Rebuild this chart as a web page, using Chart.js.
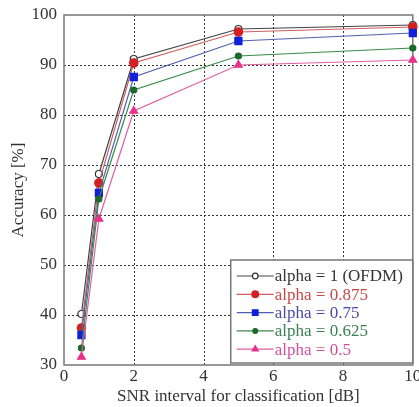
<!DOCTYPE html>
<html><head><meta charset="utf-8">
<script src="https://cdn.jsdelivr.net/npm/chart.js@4/dist/chart.umd.min.js"></script>
<style>html,body{margin:0;padding:0;background:#fff;}#wrap{width:419px;height:407px;}</style>
</head><body><div id="wrap"><canvas id="c" width="419" height="407"></canvas></div>
<script>
const snr = [0.5, 1, 2, 5, 10];
const acc_a1 = [40.2, 68.2, 91.2, 97.2, 98.0];
const acc_a0875 = [37.4, 66.4, 90.4, 96.6, 97.6];
const acc_a075 = [36.0, 64.4, 87.6, 94.8, 96.4];
const acc_a0625 = [33.4, 63.2, 85.0, 91.8, 93.4];
const acc_a05 = [31.6, 59.2, 80.8, 90.0, 91.0];
const seriesLabels = ['alpha = 1 (OFDM)', 'alpha = 0.875', 'alpha = 0.75', 'alpha = 0.625', 'alpha = 0.5'];
const xTicks = [0, 2, 4, 6, 8, 10];
const yTicks = [30, 40, 50, 60, 70, 80, 90, 100];

const FONT = '"Liberation Serif", "Times New Roman", serif';
const styles = [
  {line:'#444', fill:'#fff', edge:'#333', text:'#333', pt:'circle', r:3.5},
  {line:'#d06060', fill:'#d42020', edge:'#d42020', text:'#c84848', pt:'circle', r:4.2},
  {line:'#5060b0', fill:'#1020d8', edge:'#1020d8', text:'#4a4aa8', pt:'rect', r:5},
  {line:'#3a8a4a', fill:'#1a6a2a', edge:'#1a6a2a', text:'#3a8050', pt:'circle', r:3},
  {line:'#e060a0', fill:'#e8308c', edge:'#e8308c', text:'#d050a0', pt:'triangle', r:4.5}
];
const allData = [acc_a1, acc_a0875, acc_a075, acc_a0625, acc_a05];

const datasets = allData.map((d, i) => ({
  label: seriesLabels[i],
  data: snr.map((x, j) => ({x: x, y: d[j]})),
  borderColor: styles[i].line,
  backgroundColor: styles[i].fill,
  pointBackgroundColor: styles[i].fill,
  pointBorderColor: styles[i].edge,
  pointBorderWidth: 1.2,
  pointStyle: styles[i].pt,
  pointRadius: styles[i].r,
  borderWidth: 1.2,
  tension: 0,
  clip: false
})).reverse();

const framePlugin = {
  id: 'frame',
  beforeDatasetsDraw(chart) {
    const {ctx, chartArea: a} = chart;
    const xs = chart.scales.x, ys = chart.scales.y;
    ctx.save();
    ctx.strokeStyle = '#333';
    ctx.lineWidth = 1;
    ctx.setLineDash([2, 2]);
    xTicks.slice(1, -1).forEach(v => {
      const px = Math.round(xs.getPixelForValue(v)) + 0.5;
      ctx.beginPath(); ctx.moveTo(px, a.top); ctx.lineTo(px, a.bottom); ctx.stroke();
    });
    yTicks.slice(1, -1).forEach(v => {
      const py = Math.round(ys.getPixelForValue(v)) + 0.5;
      ctx.beginPath(); ctx.moveTo(a.left, py); ctx.lineTo(a.right, py); ctx.stroke();
    });
    ctx.setLineDash([]);
    ctx.strokeStyle = '#777';
    ctx.lineWidth = 1.5;
    ctx.strokeRect(a.left, a.top, a.right - a.left, a.bottom - a.top);
    ctx.restore();
  },
  afterDraw(chart) {
    const {ctx, chartArea: a} = chart;
    const xs = chart.scales.x;
    const ys = chart.scales.y;
    const left = xs.getPixelForValue(4.78);
    const top = ys.getPixelForValue(51);
    const right = a.right, bottom = a.bottom - 2;
    ctx.save();
    ctx.fillStyle = '#fff';
    ctx.fillRect(left, top, right - left, bottom - top);
    ctx.strokeStyle = '#777';
    ctx.lineWidth = 1.5;
    ctx.strokeRect(left, top, right - left, bottom - top);
    ctx.font = '17px ' + FONT;
    ctx.textBaseline = 'middle';
    for (let i = 0; i < seriesLabels.length; i++) {
      const s = styles[i];
      const y = top + 16 + i * 18.3;
      const x0 = left + 6, x1 = left + 43, xm = (x0 + x1) / 2;
      ctx.strokeStyle = s.line;
      ctx.lineWidth = 1.2;
      ctx.beginPath(); ctx.moveTo(x0, y); ctx.lineTo(x1, y); ctx.stroke();
      ctx.fillStyle = s.fill; ctx.strokeStyle = s.edge;
      Chart.helpers.drawPoint(ctx, {pointStyle: s.pt, radius: s.r * 0.8, borderWidth: 1.2}, xm, y);
      ctx.fillStyle = s.text;
      ctx.fillText(seriesLabels[i], x1 + 1, y + 1);
    }
    ctx.restore();
  }
};

new Chart(document.getElementById('c'), {
  type: 'line',
  data: {datasets: datasets},
  plugins: [framePlugin],
  options: {
    responsive: false,
    animation: false,
    layout: {padding: {left: 8, right: 6, top: 15, bottom: 0}},
    plugins: {legend: {display: false}, tooltip: {enabled: false}},
    scales: {
      x: {
        type: 'linear', min: 0, max: 10,
        afterBuildTicks: s => { s.ticks = xTicks.map(v => ({value: v})); },
        afterFit: s => { s.height = 42; s.paddingLeft = 0; s.paddingRight = 0; },
        grid: {display: false, drawTicks: false, tickLength: 0},
        border: {display: false},
        ticks: {color: '#333', font: {family: FONT, size: 17}, padding: 1, maxRotation: 0, autoSkip: false},
        title: {display: true, text: 'SNR interval for classification [dB]', color: '#333', font: {family: FONT, size: 17}, padding: {top: 0, bottom: 0}}
      },
      y: {
        type: 'linear', min: 30, max: 100,
        afterBuildTicks: s => { s.ticks = yTicks.map(v => ({value: v})); },
        afterFit: s => { s.width = 56; s.paddingTop = 0; s.paddingBottom = 0; },
        grid: {display: false, drawTicks: false, tickLength: 0},
        border: {display: false},
        ticks: {color: '#333', font: {family: FONT, size: 17}, padding: 7, autoSkip: false},
        title: {display: true, text: 'Accuracy [%]', color: '#333', font: {family: FONT, size: 17}, padding: {top: 0, bottom: 0}}
      }
    }
  }
});
</script></body></html>
